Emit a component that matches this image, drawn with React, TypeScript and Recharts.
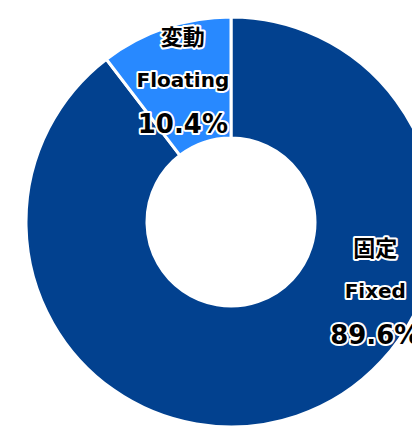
import React from "react";
import { PieChart, Pie, Cell } from "recharts";

const categoriesJa = ["固定", "変動"];
const categoriesEn = ["Fixed", "Floating"];
const shares = [89.6, 10.4];
const colors = ["#02418F", "#2889FF"];

const data = shares.map((v, i) => ({
  name: categoriesEn[i],
  ja: categoriesJa[i],
  value: v,
}));

const RAD = Math.PI / 180;
const FONT = "'DejaVu Sans', 'Noto Sans CJK JP', sans-serif";

// Excel-ish label placement: floating sits on its mid angle, fixed is pushed to the right
const labelSpot = [
  { angle: -25.6, r: 160 },
  { angle: null as number | null, r: 150 },
];

const haloStyle = {
  stroke: "#ffffff",
  strokeWidth: 4,
  strokeLinejoin: "round" as const,
  paintOrder: "stroke" as const,
  fill: "#000000",
  fontWeight: 700,
  fontFamily: FONT,
};

// eslint-disable-next-line @typescript-eslint/no-explicit-any
const renderLabel = (props: any) => {
  const { cx, cy, midAngle, index, payload } = props;
  const spot = labelSpot[index];
  const ang = spot.angle ?? midAngle;
  const x = cx + spot.r * Math.cos(-ang * RAD);
  const y = cy + spot.r * Math.sin(-ang * RAD);
  const d = payload?.payload ?? payload;
  return (
    <g>
      <text x={x} y={y - 35} textAnchor="middle" fontSize={22} style={haloStyle}>
        {d.ja}
      </text>
      <text x={x} y={y + 7} textAnchor="middle" fontSize={20} style={haloStyle}>
        {d.name}
      </text>
      <text x={x} y={y + 53} textAnchor="middle" fontSize={26} style={haloStyle}>
        {d.value.toFixed(1)}%
      </text>
    </g>
  );
};

export default function App() {
  return (
    <div style={{ position: "absolute", left: 0, top: 0, width: 412, height: 426, background: "#fff" }}>
      <PieChart width={412} height={426} margin={{ top: 0, right: 0, bottom: 0, left: 0 }}>
        <Pie
          data={data}
          dataKey="value"
          nameKey="name"
          cx={231}
          cy={222}
          innerRadius={84}
          outerRadius={205}
          startAngle={90}
          endAngle={-270}
          stroke="#ffffff"
          strokeWidth={3}
          label={renderLabel}
          labelLine={false}
          isAnimationActive={false}
        >
          {data.map((_, i) => (
            <Cell key={i} fill={colors[i]} />
          ))}
        </Pie>
      </PieChart>
    </div>
  );
}
